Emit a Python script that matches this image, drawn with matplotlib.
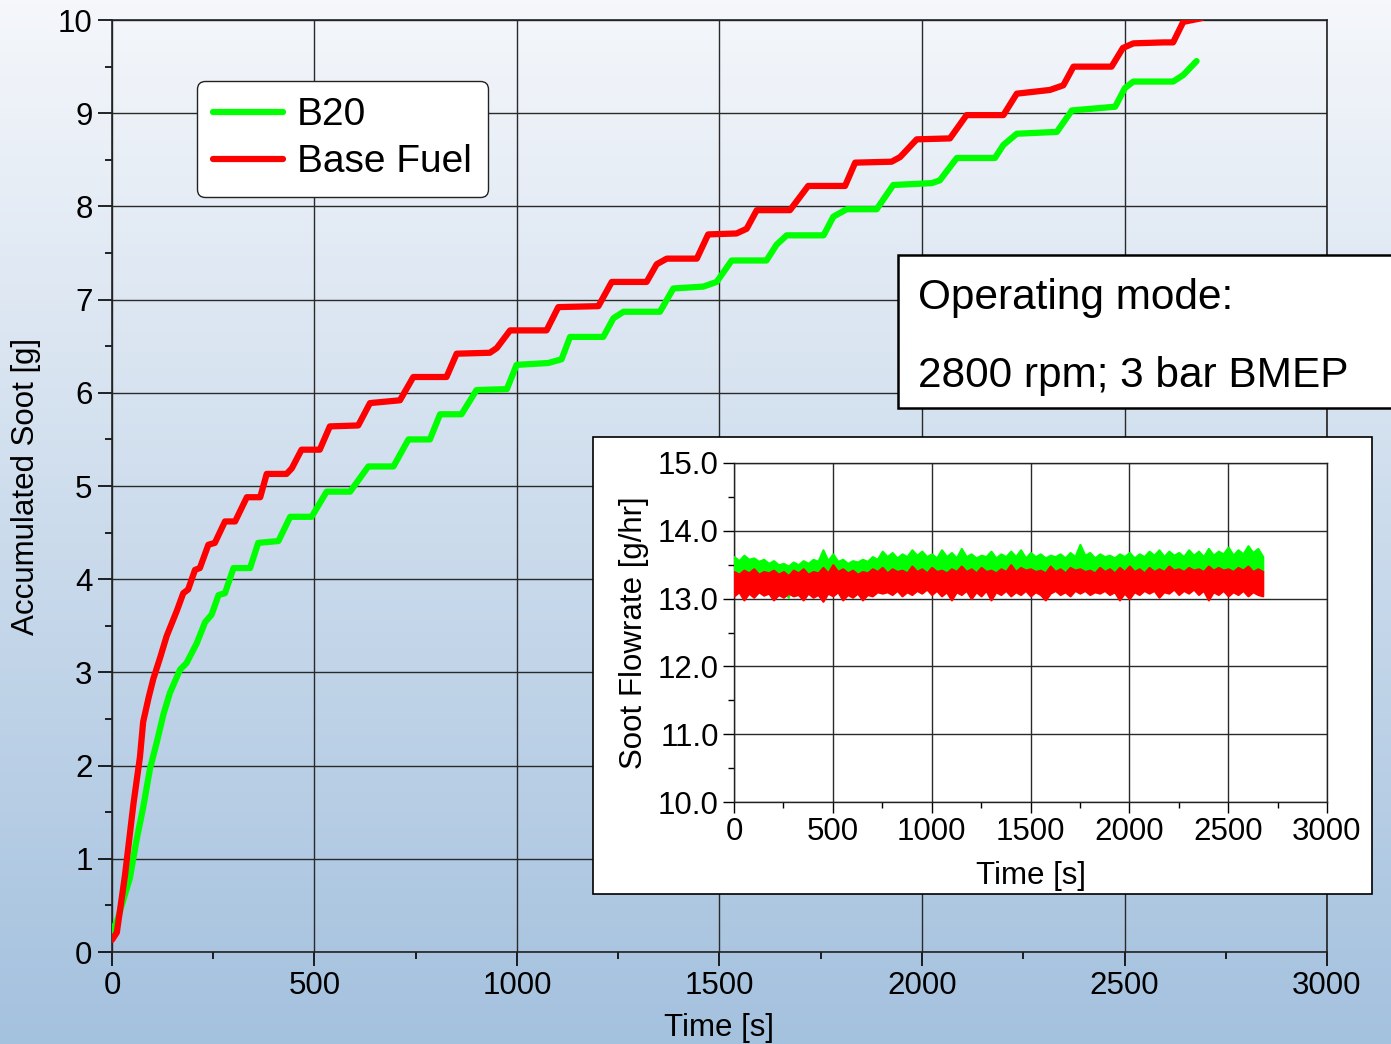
import numpy as np
import matplotlib.pyplot as plt
from matplotlib.ticker import MultipleLocator
from matplotlib.colors import LinearSegmentedColormap
from matplotlib.patches import Rectangle

plt.rcParams['font.family'] = ['Liberation Sans', 'DejaVu Sans']

# accumulated soot, B20
b20_t = [0, 14, 28, 44, 61, 77, 94, 110, 127, 143, 168, 184, 209, 230, 246, 263, 279,
         300, 341, 361, 411, 440, 493, 530, 588, 633, 695, 732, 785, 810, 863, 900, 975,
         999, 1077, 1110, 1131, 1213, 1238, 1263, 1353, 1386, 1460, 1493, 1530, 1616,
         1641, 1666, 1757, 1781, 1814, 1888, 1929, 2024, 2044, 2086, 2180, 2201, 2234,
         2333, 2370, 2477, 2501, 2522, 2620, 2645, 2678]
b20_soot = [0.22, 0.35, 0.56, 0.79, 1.21, 1.55, 1.97, 2.24, 2.55, 2.78, 3.03, 3.10, 3.31,
            3.54, 3.62, 3.83, 3.85, 4.12, 4.12, 4.39, 4.41, 4.67, 4.67, 4.94, 4.94, 5.21,
            5.21, 5.50, 5.50, 5.77, 5.77, 6.03, 6.04, 6.30, 6.32, 6.36, 6.60, 6.60, 6.80,
            6.87, 6.87, 7.12, 7.14, 7.19, 7.42, 7.42, 7.59, 7.69, 7.69, 7.89, 7.97, 7.97,
            8.23, 8.25, 8.28, 8.52, 8.52, 8.66, 8.78, 8.80, 9.03, 9.07, 9.27, 9.34, 9.34,
            9.41, 9.56]

# accumulated soot, base fuel
base_t = [0, 12, 32, 53, 69, 77, 91, 102, 119, 135, 160, 176, 188, 205, 217, 238, 254,
          279, 304, 333, 366, 382, 431, 444, 468, 513, 538, 608, 637, 711, 744, 826, 851,
          933, 950, 983, 1073, 1102, 1201, 1234, 1320, 1345, 1370, 1444, 1472, 1542, 1567,
          1592, 1674, 1719, 1810, 1835, 1925, 1946, 1987, 2069, 2110, 2201, 2234, 2316,
          2349, 2374, 2468, 2496, 2522, 2596, 2620, 2645, 2690]
base_soot = [0.13, 0.21, 0.82, 1.59, 2.09, 2.47, 2.74, 2.93, 3.16, 3.39, 3.66, 3.85, 3.89,
             4.10, 4.12, 4.37, 4.39, 4.62, 4.62, 4.88, 4.88, 5.13, 5.13, 5.19, 5.39, 5.39,
             5.64, 5.65, 5.89, 5.92, 6.17, 6.17, 6.42, 6.43, 6.48, 6.67, 6.67, 6.92, 6.93,
             7.19, 7.19, 7.38, 7.44, 7.44, 7.70, 7.71, 7.76, 7.96, 7.96, 8.22, 8.22, 8.47,
             8.48, 8.53, 8.72, 8.73, 8.98, 8.98, 9.21, 9.25, 9.30, 9.50, 9.50, 9.70, 9.75,
             9.76, 9.76, 9.98, 10.02]

# soot flowrate spread (max / min in each 25 s window, 0 .. 2675 s)
rate_t = np.arange(0, 2700, 25)
b20_hi = [13.62, 13.56, 13.64, 13.58, 13.60, 13.55, 13.58, 13.52, 13.56, 13.50,
          13.52, 13.48, 13.54, 13.50, 13.56, 13.52, 13.58, 13.55, 13.72, 13.56,
          13.66, 13.55, 13.58, 13.52, 13.56, 13.54, 13.58, 13.55, 13.62, 13.58,
          13.70, 13.62, 13.68, 13.60, 13.66, 13.62, 13.72, 13.64, 13.70, 13.62,
          13.66, 13.60, 13.72, 13.62, 13.68, 13.60, 13.74, 13.62, 13.66, 13.60,
          13.64, 13.62, 13.70, 13.60, 13.66, 13.62, 13.70, 13.62, 13.72, 13.60,
          13.68, 13.62, 13.66, 13.60, 13.64, 13.62, 13.66, 13.60, 13.68, 13.62,
          13.80, 13.64, 13.68, 13.60, 13.66, 13.62, 13.64, 13.60, 13.66, 13.62,
          13.68, 13.60, 13.66, 13.62, 13.70, 13.64, 13.72, 13.62, 13.70, 13.64,
          13.68, 13.62, 13.72, 13.64, 13.70, 13.62, 13.74, 13.64, 13.70, 13.66,
          13.76, 13.64, 13.72, 13.66, 13.78, 13.68, 13.74, 13.62]
b20_lo = [13.38, 13.34, 13.36, 13.32, 13.35, 13.30, 13.34, 13.28, 13.20, 13.05,
          13.10, 13.02, 13.30, 13.34, 13.32, 13.36, 13.34, 13.38, 13.32, 13.36,
          13.34, 13.38, 13.32, 13.36, 13.34, 13.38, 13.32, 13.36, 13.34, 13.38,
          13.36, 13.40, 13.34, 13.38, 13.36, 13.40, 13.34, 13.38, 13.36, 13.40,
          13.34, 13.38, 13.36, 13.40, 13.34, 13.38, 13.36, 13.40, 13.34, 13.38,
          13.36, 13.40, 13.34, 13.38, 13.36, 13.40, 13.34, 13.38, 13.36, 13.40,
          13.34, 13.38, 13.36, 13.40, 13.34, 13.38, 13.36, 13.40, 13.34, 13.38,
          13.36, 13.40, 13.34, 13.38, 13.36, 13.40, 13.34, 13.38, 13.36, 13.40,
          13.34, 13.38, 13.36, 13.40, 13.34, 13.38, 13.36, 13.40, 13.34, 13.38,
          13.36, 13.40, 13.34, 13.38, 13.36, 13.40, 13.34, 13.38, 13.36, 13.40,
          13.34, 13.38, 13.36, 13.40, 13.34, 13.38, 13.36, 13.40]
base_hi = [13.40, 13.36, 13.42, 13.38, 13.44, 13.36, 13.40, 13.38, 13.42, 13.36,
           13.40, 13.34, 13.42, 13.38, 13.44, 13.36, 13.40, 13.38, 13.46, 13.38,
           13.50, 13.40, 13.44, 13.38, 13.42, 13.36, 13.40, 13.38, 13.44, 13.40,
           13.46, 13.38, 13.44, 13.40, 13.42, 13.38, 13.48, 13.40, 13.44, 13.38,
           13.46, 13.40, 13.42, 13.38, 13.44, 13.40, 13.48, 13.40, 13.44, 13.38,
           13.46, 13.40, 13.42, 13.38, 13.44, 13.40, 13.50, 13.40, 13.46, 13.42,
           13.44, 13.40, 13.42, 13.38, 13.48, 13.40, 13.44, 13.38, 13.46, 13.42,
           13.44, 13.40, 13.42, 13.38, 13.46, 13.40, 13.44, 13.38, 13.46, 13.40,
           13.48, 13.40, 13.44, 13.38, 13.46, 13.40, 13.44, 13.40, 13.48, 13.42,
           13.44, 13.40, 13.46, 13.42, 13.44, 13.40, 13.48, 13.42, 13.46, 13.42,
           13.44, 13.40, 13.46, 13.42, 13.48, 13.40, 13.44, 13.40]
base_lo = [13.04, 13.10, 12.98, 13.08, 13.02, 13.10, 13.05, 13.08, 12.98, 13.06,
           13.02, 13.08, 13.04, 13.06, 12.98, 13.08, 13.02, 13.06, 12.96, 13.08,
           13.04, 13.10, 12.98, 13.06, 13.02, 13.08, 12.98, 13.06, 13.04, 13.10,
           13.08, 13.10, 13.06, 13.12, 13.04, 13.10, 13.06, 13.12, 13.08, 13.14,
           13.06, 13.12, 13.04, 13.10, 12.98, 13.10, 13.06, 13.12, 13.00, 13.10,
           13.04, 13.12, 12.98, 13.10, 13.06, 13.12, 13.04, 13.10, 13.06, 13.12,
           13.04, 13.10, 13.06, 12.98, 13.08, 13.12, 13.06, 13.10, 13.04, 13.12,
           13.08, 13.12, 13.06, 13.10, 13.08, 13.12, 13.06, 13.10, 12.98, 13.08,
           13.00, 13.10, 13.06, 13.12, 13.08, 13.12, 13.02, 13.10, 13.08, 13.14,
           13.06, 13.12, 13.08, 13.14, 13.06, 13.12, 12.98, 13.10, 13.06, 13.12,
           13.04, 13.10, 13.06, 13.12, 13.04, 13.10, 13.06, 13.04]

GREEN = '#00ff00'
RED = '#ff0000'
FS = 22.5

fig = plt.figure(figsize=(13.91, 10.44), dpi=100)

# background gradient, light at the top, pale blue at the bottom
bg = fig.add_axes([0, 0, 1, 1], zorder=-10)
grad = np.linspace(0, 1, 256).reshape(-1, 1)
cmap = LinearSegmentedColormap.from_list('bg', ['#f5f7fb', '#a4c1de'])
bg.imshow(grad, aspect='auto', cmap=cmap, extent=[0, 1, 0, 1], origin='upper')
bg.set_axis_off()

ax = fig.add_axes([0.0805, 0.0881, 0.8735, 0.8927])
ax.patch.set_alpha(0)
ax.plot(b20_t, b20_soot, color=GREEN, lw=4.5, solid_capstyle='round',
        solid_joinstyle='round', label='B20', zorder=3)
ax.plot(base_t, base_soot, color=RED, lw=4.5, solid_capstyle='round',
        solid_joinstyle='round', label='Base Fuel', zorder=3)
ax.set_xlim(0, 3000)
ax.set_ylim(0, 10)
ax.xaxis.set_major_locator(MultipleLocator(500))
ax.xaxis.set_minor_locator(MultipleLocator(250))
ax.yaxis.set_major_locator(MultipleLocator(1))
ax.yaxis.set_minor_locator(MultipleLocator(0.5))
ax.grid(True, which='major', color='#2a2a2a', lw=1.0)
ax.tick_params(which='major', direction='out', length=10, width=1.2, labelsize=FS, pad=4)
ax.tick_params(which='minor', direction='out', length=5, width=1.2)
for s in ax.spines.values():
    s.set_color('#222222')
    s.set_linewidth(1.2)
ax.set_xlabel('Time [s]', fontsize=FS, labelpad=8)
ax.set_ylabel('Accumulated Soot [g]', fontsize=FS, labelpad=12)

leg = ax.legend(loc='upper left', bbox_to_anchor=(0.070, 0.9345), borderaxespad=0,
                fontsize=28, handlelength=1.8, handletextpad=0.35, borderpad=0.42,
                labelspacing=0.28, fancybox=True, framealpha=1, edgecolor='#222222')
leg.get_frame().set_linewidth(1.0)
for h in leg.get_lines():
    h.set_linewidth(4.5)

# operating mode box, runs off the right edge
fig.patches.append(Rectangle((898 / 1391, 1 - 408 / 1044), 0.5, 153 / 1044,
                             transform=fig.transFigure, facecolor='white',
                             edgecolor='black', lw=1.8, zorder=5))
fig.text(918 / 1391, 1 - 298 / 1044, 'Operating mode:', fontsize=30.5, va='center', zorder=6)
fig.text(918 / 1391, 1 - 376 / 1044, '2800 rpm; 3 bar BMEP', fontsize=30.5, va='center', zorder=6)

# inset panel with flowrate
fig.patches.append(Rectangle((593 / 1391, 1 - 894 / 1044), 779 / 1391, 457 / 1044,
                             transform=fig.transFigure, facecolor='white',
                             edgecolor='black', lw=1.2, zorder=5))
ins = fig.add_axes([734 / 1391, 1 - 802 / 1044, 593 / 1391, 339 / 1044], zorder=7)
ins.patch.set_alpha(0)
ins.fill_between(rate_t, b20_lo, b20_hi, color=GREEN, lw=1.5, zorder=3)
ins.fill_between(rate_t, base_lo, base_hi, color=RED, lw=1.5, zorder=4)
ins.set_xlim(0, 3000)
ins.set_ylim(10, 15)
ins.xaxis.set_major_locator(MultipleLocator(500))
ins.xaxis.set_minor_locator(MultipleLocator(250))
ins.yaxis.set_major_locator(MultipleLocator(1))
ins.yaxis.set_minor_locator(MultipleLocator(0.5))
ins.set_yticks([10, 11, 12, 13, 14, 15], ['10.0', '11.0', '12.0', '13.0', '14.0', '15.0'])
ins.grid(True, which='major', color='#2a2a2a', lw=1.0)
ins.tick_params(which='major', direction='out', length=8, width=1.0, labelsize=FS, pad=3)
ins.tick_params(which='minor', direction='out', length=4, width=1.0)
for s in ins.spines.values():
    s.set_color('#222222')
    s.set_linewidth(1.0)
ins.set_xlabel('Time [s]', fontsize=FS, labelpad=10)
ins.set_ylabel('Soot Flowrate [g/hr]', fontsize=FS, labelpad=6)

fig.savefig('out.png', dpi=100)
